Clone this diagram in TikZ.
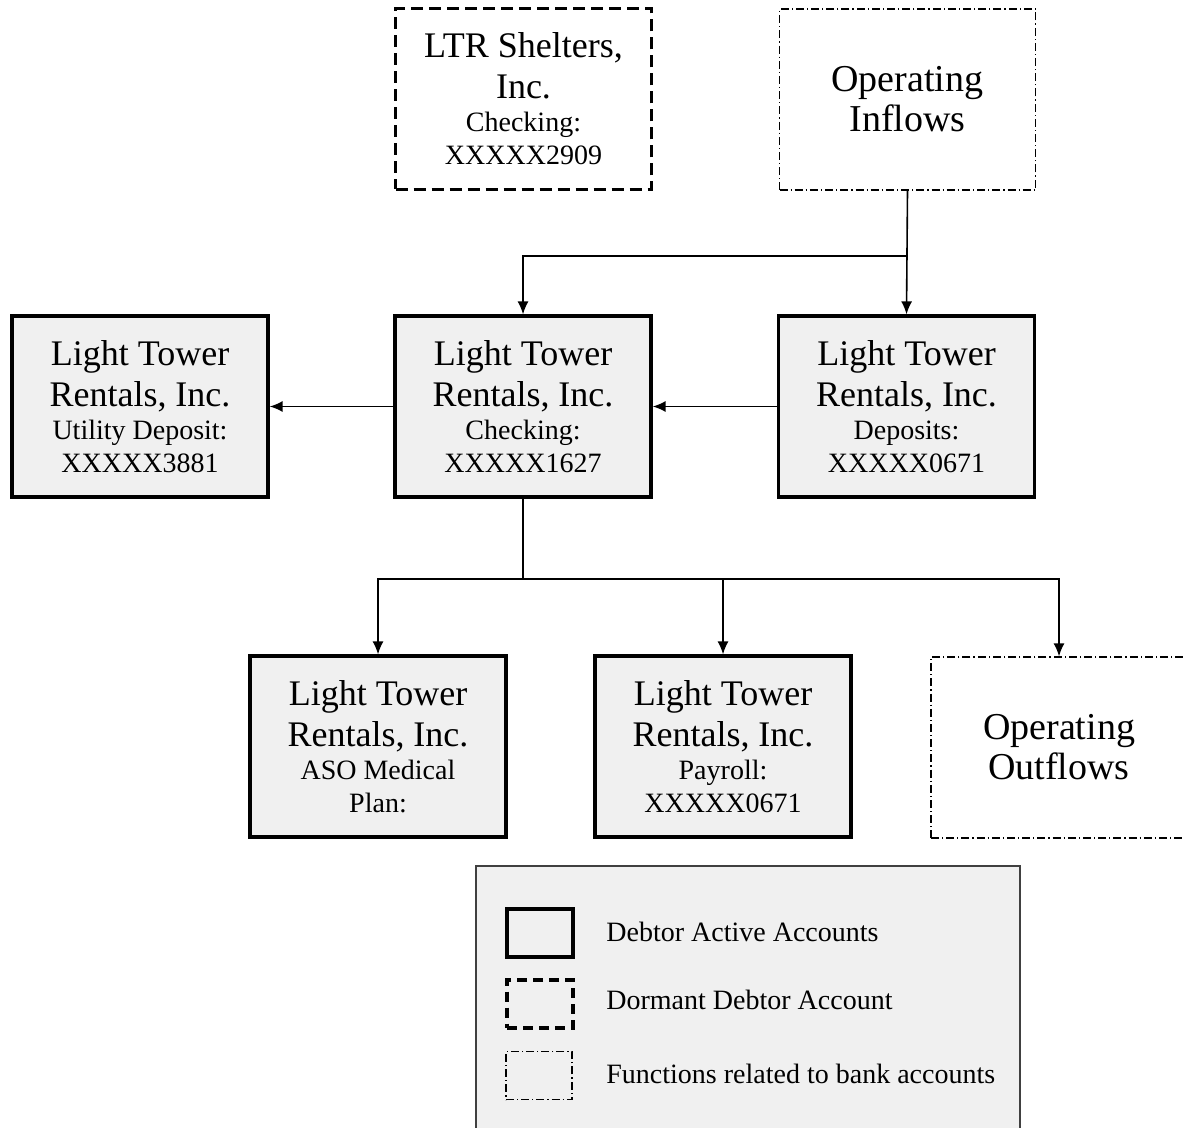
\documentclass[tikz,border=0pt]{standalone}
\usepackage{fontspec}
\setmainfont{Liberation Serif}
\usepackage{tikz}
\usetikzlibrary{arrows.meta,calc}
\definecolor{boxgray}{HTML}{F0F0F0}
\newcommand{\sm}{\fontsize{14}{16.5}\selectfont}

\begin{document}
\begin{tikzpicture}[x=0.5pt,y=-0.5pt,
  acct/.style={draw,line width=1.6pt,fill=boxgray,minimum width=128pt,minimum height=90.5pt,
    inner sep=0pt,align=center,font=\fontsize{18}{16.5}\selectfont},
  dormant/.style={acct,fill=white,line width=1.8pt,dash pattern=on 6pt off 3pt},
  func/.style={draw,line width=0.6pt,fill=white,dash pattern=on 4pt off 1.5pt on 0.6pt off 1.5pt,
    minimum width=128pt,minimum height=90.5pt,inner sep=0pt,align=center,font=\fontsize{19}{20}\selectfont},
  keybox/.style={draw,minimum width=33pt,minimum height=24pt,inner sep=0pt},
  keytext/.style={anchor=west,inner sep=0pt,font=\fontsize{14}{16}\selectfont},
  flow/.style={-{Latex[length=6.5pt,width=5.5pt]},line width=0.8pt}]
\fill[white] (0,0) rectangle (1183,1128);
\useasboundingbox (0,0) rectangle (1183,1128);

% top row
\node[dormant] (ltr) at (523.5,99) {LTR Shelters,\\[4pt]Inc.\\\sm Checking:\\\sm XXXXX2909};
\node[func] (inflow) at (907.5,99.5) {Operating\\Inflows};

% middle row
\node[acct] (util) at (140,406.5) {Light Tower\\[4pt]Rentals, Inc.\\\sm Utility Deposit:\\\sm XXXXX3881};
\node[acct] (chk) at (523,406.5) {Light Tower\\[4pt]Rentals, Inc.\\\sm Checking:\\\sm XXXXX1627};
\node[acct] (dep) at (906.5,406.5) {Light Tower\\[4pt]Rentals, Inc.\\\sm Deposits:\\\sm XXXXX0671};

% bottom row
\node[acct] (aso) at (378,746.5) {Light Tower\\[4pt]Rentals, Inc.\\\sm ASO Medical\\\sm Plan:};
\node[acct] (pay) at (723,746.5) {Light Tower\\[4pt]Rentals, Inc.\\\sm Payroll:\\\sm XXXXX0671};
\node[func] (outflow) at (1059,747.5) {Operating\\Outflows};

% connectors
\coordinate (split) at (907.5,256);
\coordinate (fork) at (523,579);
\draw[flow] (inflow.south) -- (dep.north);
\draw[flow] (split) -| (chk.north);
\draw[flow] (dep.west) -- (chk.east);
\draw[flow] (chk.west) -- (util.east);
\draw[line width=0.8pt] (chk.south) -- (fork);
\draw[flow] (fork) -| (aso.north);
\draw[flow] (fork) -| (pay.north);
\draw[flow] (fork) -| (outflow.north);

% legend
\node[draw=black!75,line width=0.6pt,fill=boxgray,minimum width=272pt,minimum height=140pt] (legend) at (748,1006) {};
\node[keybox,line width=2pt] (keyact) at (540,933) {};
\node[keybox,line width=2pt,dash pattern=on 5pt off 3pt] (keydor) at (540,1003.5) {};
\node[keybox,line width=0.6pt,dash pattern=on 4pt off 1.5pt on 0.6pt off 1.5pt] (keyfun) at (539,1075.5) {};
\node[keytext] (txtact) at (606,932) {Debtor Active Accounts};
\node[keytext] (txtdor) at (606,1000) {Dormant Debtor Account};
\node[keytext] (txtfun) at (606,1074) {Functions related to bank accounts};
\end{tikzpicture}
\end{document}
